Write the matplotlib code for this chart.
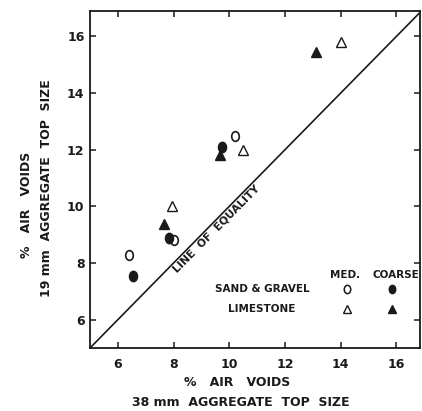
import matplotlib
matplotlib.use("Agg")
import matplotlib.pyplot as plt
from matplotlib.path import Path
from matplotlib.transforms import Affine2D

# Data: x = % air voids (38 mm top size), y = % air voids (19 mm top size)
sg_med_x = [6.4, 8.0, 10.2]
sg_med_y = [8.3, 8.8, 12.5]
sg_coarse_x = [6.55, 7.85, 9.75]
sg_coarse_y = [7.55, 8.9, 12.1]
ls_med_x = [7.95, 10.5, 14.0]
ls_med_y = [10.0, 12.0, 15.8]
ls_coarse_x = [7.65, 9.67, 13.1]
ls_coarse_y = [9.37, 11.83, 15.45]

equality = [5, 17]
xticks = [6, 8, 10, 12, 14, 16]
yticks = [6, 8, 10, 12, 14, 16]

plt.rcParams['font.family'] = ['DejaVu Sans']
plt.rcParams['font.weight'] = 'bold'
ink = '#1a1a1a'

fig = plt.figure(figsize=(4.22, 4.11), dpi=100)
ax = fig.add_axes([90/422, 1-348/411, 330/422, 337/411])

oval = Path.unit_circle().transformed(Affine2D().scale(0.78, 1.0))

ax.plot(equality, equality, color=ink, lw=1.2, clip_on=True)

ax.plot(sg_med_x, sg_med_y, ls='none', marker=oval, ms=7, mfc='white', mec=ink, mew=1.2)
ax.plot(sg_coarse_x, sg_coarse_y, ls='none', marker=oval, ms=7.5, mfc=ink, mec=ink)
ax.plot(ls_med_x, ls_med_y, ls='none', marker='^', ms=6.5, mfc='white', mec=ink, mew=1.0)
ax.plot(ls_coarse_x, ls_coarse_y, ls='none', marker='^', ms=6.5, mfc=ink, mec=ink)

ax.set_xlim(5, 16.85)
ax.set_ylim(5, 16.9)
ax.set_xticks(xticks)
ax.set_yticks(yticks)
ax.tick_params(direction='in', length=4, width=1.1, top=True, right=True,
               labelsize=9, colors=ink)
ax.tick_params(axis='x', pad=7)
ax.tick_params(axis='y', pad=4)
for s in ax.spines.values():
    s.set_linewidth(1.3)
    s.set_color(ink)

ax.text(9.55, 9.2, 'LINE  OF  EQUALITY', rotation=45.3, rotation_mode='anchor',
        ha='center', va='center', fontsize=7.8, color=ink)

# legend
tr = ax.transAxes
ax.text(0.773, 0.217, 'MED.', transform=tr, ha='center', va='center', fontsize=7.5, color=ink)
ax.text(0.927, 0.217, 'COARSE', transform=tr, ha='center', va='center', fontsize=7.5, color=ink)
ax.text(0.521, 0.175, 'SAND & GRAVEL', transform=tr, ha='center', va='center', fontsize=7.5, color=ink)
ax.text(0.521, 0.116, 'LIMESTONE', transform=tr, ha='center', va='center', fontsize=7.5, color=ink)
ax.plot([0.778], [0.175], transform=tr, ls='none', marker=oval, ms=6, mfc='white', mec=ink, mew=1.1)
ax.plot([0.915], [0.175], transform=tr, ls='none', marker=oval, ms=6, mfc=ink, mec=ink)
ax.plot([0.778], [0.116], transform=tr, ls='none', marker='^', ms=5.5, mfc='white', mec=ink, mew=1.0)
ax.plot([0.915], [0.116], transform=tr, ls='none', marker='^', ms=5.5, mfc=ink, mec=ink)

# axis labels
fig.text(237/422, 1-382/411, '%   AIR   VOIDS', ha='center', va='center', fontsize=9, color=ink)
fig.text(241/422, 1-402/411, '38 mm  AGGREGATE  TOP  SIZE', ha='center', va='center', fontsize=9, color=ink)
fig.text(27/422, 1-205/411, '%   AIR   VOIDS', ha='center', va='center', rotation=90, fontsize=9, color=ink)
fig.text(47/422, 1-188/411, '19 mm  AGGREGATE  TOP  SIZE', ha='center', va='center', rotation=90, fontsize=9, color=ink)

fig.savefig('out.png', dpi=100)
